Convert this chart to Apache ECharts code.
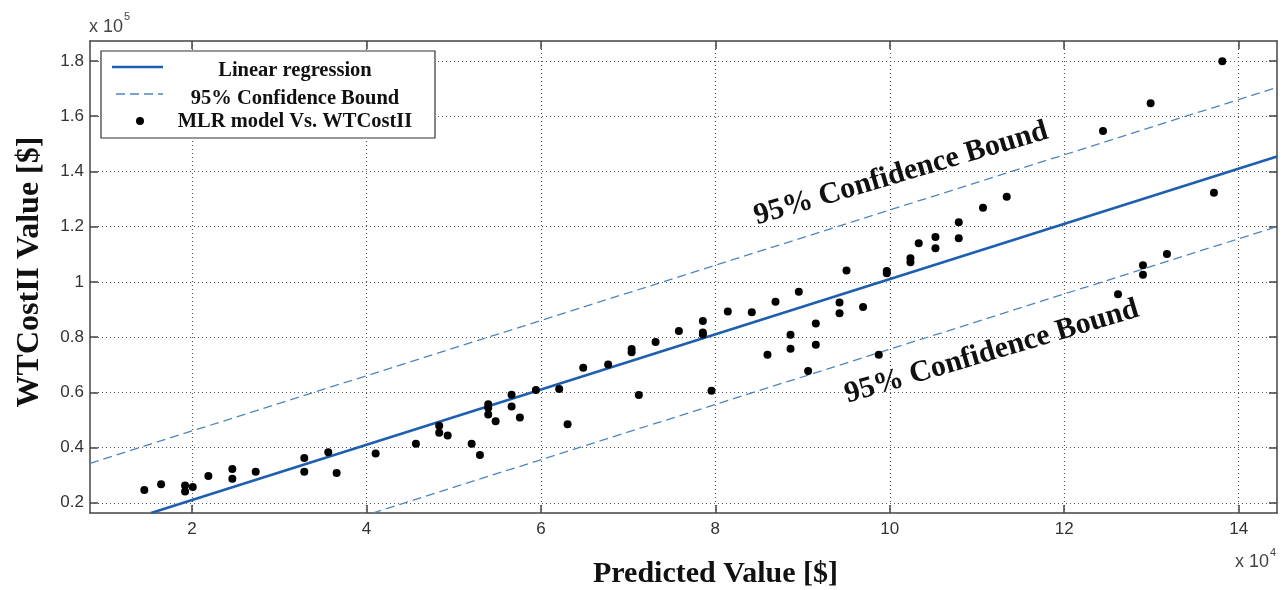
<!DOCTYPE html>
<html>
<head>
<meta charset="utf-8">
<title>MLR model vs WTCostII</title>
<script src="https://cdn.jsdelivr.net/npm/echarts@6/dist/echarts.min.js"></script>
<style>
	html, body { margin: 0; padding: 0; background: #fff; }
	#chart { width: 1284px; height: 590px; }
</style>
</head>
<body>
<div id="chart"></div>
<script>
	// x values are in units of 10^4, y values in units of 10^5
	var xTicks = [2, 4, 6, 8, 10, 12, 14];
	var yTicks = [0.2, 0.4, 0.6, 0.8, 1, 1.2, 1.4, 1.6, 1.8];

	var predicted = [1.453, 1.645, 1.920, 1.920, 2.008, 2.187, 2.462, 2.462, 2.730, 3.287,
		3.287, 3.562, 3.658, 4.105, 4.567, 4.834, 4.834, 4.931, 5.206, 5.301,
		5.396, 5.396, 5.396, 5.481, 5.664, 5.664, 5.759, 5.943, 6.210, 6.306,
		6.485, 6.771, 7.040, 7.040, 7.123, 7.315, 7.582, 7.857, 7.857, 7.857,
		7.956, 8.143, 8.418, 8.598, 8.690, 8.862, 8.862, 8.957, 9.064, 9.152,
		9.152, 9.424, 9.424, 9.504, 9.694, 9.874, 9.966, 9.966, 10.237, 10.237,
		10.332, 10.524, 10.524, 10.791, 10.791, 11.069, 11.341, 12.445, 12.991, 12.617,
		12.903, 12.903, 13.178, 13.813, 13.717];
	var actual = [0.246, 0.267, 0.263, 0.241, 0.257, 0.297, 0.322, 0.287, 0.312, 0.362,
		0.312, 0.383, 0.308, 0.378, 0.414, 0.479, 0.454, 0.444, 0.414, 0.373,
		0.557, 0.544, 0.520, 0.495, 0.591, 0.549, 0.509, 0.608, 0.612, 0.484,
		0.689, 0.701, 0.757, 0.745, 0.590, 0.782, 0.822, 0.858, 0.817, 0.809,
		0.606, 0.893, 0.890, 0.736, 0.928, 0.808, 0.758, 0.964, 0.677, 0.849,
		0.772, 0.925, 0.886, 1.041, 0.909, 0.736, 1.039, 1.031, 1.085, 1.071,
		1.140, 1.162, 1.122, 1.216, 1.158, 1.268, 1.308, 1.546, 1.647, 0.955,
		1.060, 1.026, 1.101, 1.799, 1.323];

	// line end points
	var regLine = [[1.53, 0.163], [14.44, 1.454]];
	var upperBound = [[0.83, 0.343], [14.44, 1.704]];
	var lowerBound = [[4.07, 0.163], [14.44, 1.200]];

	var legendNames = ['Linear regression', '95% Confidence Bound', 'MLR model Vs. WTCostII'];
	var boundText = '95% Confidence Bound';
	var boundTextAt = [[10.13, 1.391], [11.17, 0.746]];

	var xMin = 0.83, xMax = 14.44, yMin = 0.163, yMax = 1.872;

	var regColor = '#1d5fae';
	var boundColor = '#4f86bd';
	var frame = '#444';
	var serif = '"Liberation Serif", "Times New Roman", serif';
	var sans = '"Liberation Sans", Arial, sans-serif';

	var points = predicted.map(function (x, i) { return [x, actual[i]]; });

	var tickStyle = { color: frame, width: 1.5 };
	var gridStyle = { type: [1, 3], color: '#555', width: 1.2 };

	var option = {
		backgroundColor: '#fff',
		animation: false,
		grid: {
			left: 90,
			right: 7,
			top: 41,
			bottom: 77,
			outerBoundsMode: 'none'
		},
		xAxis: [{
			type: 'value',
			min: xMin,
			max: xMax,
			position: 'bottom',
			name: 'Predicted Value [$]',
			nameLocation: 'middle',
			nameGap: 46,
			nameTextStyle: {
				fontFamily: serif,
				fontWeight: 'bold',
				fontSize: 30,
				color: '#111',
				padding: [0, 0, 0, 64]
			},
			axisLine: { show: true, onZero: false, lineStyle: tickStyle },
			axisTick: { show: true, inside: true, length: 8, customValues: xTicks, lineStyle: tickStyle },
			axisLabel: {
				customValues: xTicks,
				margin: 8,
				color: '#333',
				fontSize: 17,
				fontFamily: sans
			},
			splitLine: { show: true, lineStyle: gridStyle }
		}, {
			type: 'value',
			min: xMin,
			max: xMax,
			position: 'top',
			axisLine: { show: true, onZero: false, lineStyle: tickStyle },
			axisTick: { show: true, inside: true, length: 8, customValues: xTicks, lineStyle: tickStyle },
			axisLabel: { show: false },
			splitLine: { show: false }
		}],
		yAxis: [{
			type: 'value',
			min: yMin,
			max: yMax,
			position: 'left',
			name: 'WTCostII Value [$]',
			nameLocation: 'middle',
			nameGap: 44,
			nameRotate: 90,
			nameTextStyle: {
				fontFamily: serif,
				fontWeight: 'bold',
				fontSize: 32,
				color: '#111',
				padding: [0, 0, 0, 10]
			},
			axisLine: { show: true, onZero: false, lineStyle: tickStyle },
			axisTick: { show: true, inside: true, length: 8, customValues: yTicks, lineStyle: tickStyle },
			axisLabel: {
				customValues: yTicks,
				margin: 6,
				color: '#333',
				fontSize: 17,
				fontFamily: sans
			},
			splitLine: { show: true, lineStyle: gridStyle }
		}, {
			type: 'value',
			min: yMin,
			max: yMax,
			position: 'right',
			axisLine: { show: true, onZero: false, lineStyle: tickStyle },
			axisTick: { show: true, inside: true, length: 8, customValues: yTicks, lineStyle: tickStyle },
			axisLabel: { show: false },
			splitLine: { show: false }
		}],
		series: [{
			name: legendNames[1],
			type: 'line',
			data: upperBound,
			symbol: 'none',
			silent: true,
			lineStyle: { color: boundColor, width: 1.3, type: [9, 5] }
		}, {
			name: legendNames[1] + ' (lower)',
			type: 'line',
			data: lowerBound,
			symbol: 'none',
			silent: true,
			lineStyle: { color: boundColor, width: 1.3, type: [9, 5] }
		}, {
			name: legendNames[0],
			type: 'line',
			data: regLine,
			symbol: 'none',
			silent: true,
			lineStyle: { color: regColor, width: 2.6 }
		}, {
			name: legendNames[2],
			type: 'scatter',
			data: points,
			symbol: 'circle',
			symbolSize: 8,
			z: 5,
			itemStyle: { color: '#000', opacity: 1 }
		}]
	};

	var myChart = echarts.init(document.getElementById('chart'));
	myChart.setOption(option);

	// annotations + hand-drawn legend box, placed after the grid exists
	var graphics = [];
	boundTextAt.forEach(function (p, i) {
		var px = myChart.convertToPixel({ gridIndex: 0 }, p);
		graphics.push({
			type: 'text',
			x: px[0],
			y: px[1],
			rotation: 16.5 * Math.PI / 180,
			z: 20,
			style: {
				text: boundText,
				font: 'bold 30px ' + serif,
				fill: '#111',
				align: 'center',
				verticalAlign: 'middle'
			}
		});
	});

	graphics.push({
		type: 'rect',
		z: 30,
		shape: { x: 101, y: 51, width: 334, height: 87 },
		style: { fill: '#fff', stroke: '#333', lineWidth: 1.2 }
	});
	graphics.push({
		type: 'line',
		z: 31,
		shape: { x1: 112, y1: 67, x2: 163, y2: 67 },
		style: { stroke: regColor, lineWidth: 2.6 }
	});
	graphics.push({
		type: 'line',
		z: 31,
		shape: { x1: 116, y1: 94, x2: 163, y2: 94 },
		style: { stroke: boundColor, lineWidth: 1.3, lineDash: [9, 5] }
	});
	graphics.push({
		type: 'circle',
		z: 31,
		shape: { cx: 140, cy: 121, r: 4 },
		style: { fill: '#000' }
	});
	var legendY = [71, 99, 122];
	legendNames.forEach(function (t, i) {
		graphics.push({
			type: 'text',
			z: 31,
			x: 295,
			y: legendY[i],
			style: {
				text: t,
				font: 'bold 20.5px ' + serif,
				fill: '#111',
				align: 'center',
				verticalAlign: 'middle'
			}
		});
	});

	// exponent markers
	graphics.push({ type: 'text', x: 89, y: 27, style: { text: 'x 10', font: '18px ' + sans, fill: '#444', verticalAlign: 'middle' } });
	graphics.push({ type: 'text', x: 124, y: 17, style: { text: '5', font: '11px ' + sans, fill: '#444', verticalAlign: 'middle' } });
	graphics.push({ type: 'text', x: 1235, y: 562, style: { text: 'x 10', font: '18px ' + sans, fill: '#444', verticalAlign: 'middle' } });
	graphics.push({ type: 'text', x: 1270, y: 553, style: { text: '4', font: '11px ' + sans, fill: '#444', verticalAlign: 'middle' } });

	myChart.setOption({ graphic: graphics });
</script>
</body>
</html>
